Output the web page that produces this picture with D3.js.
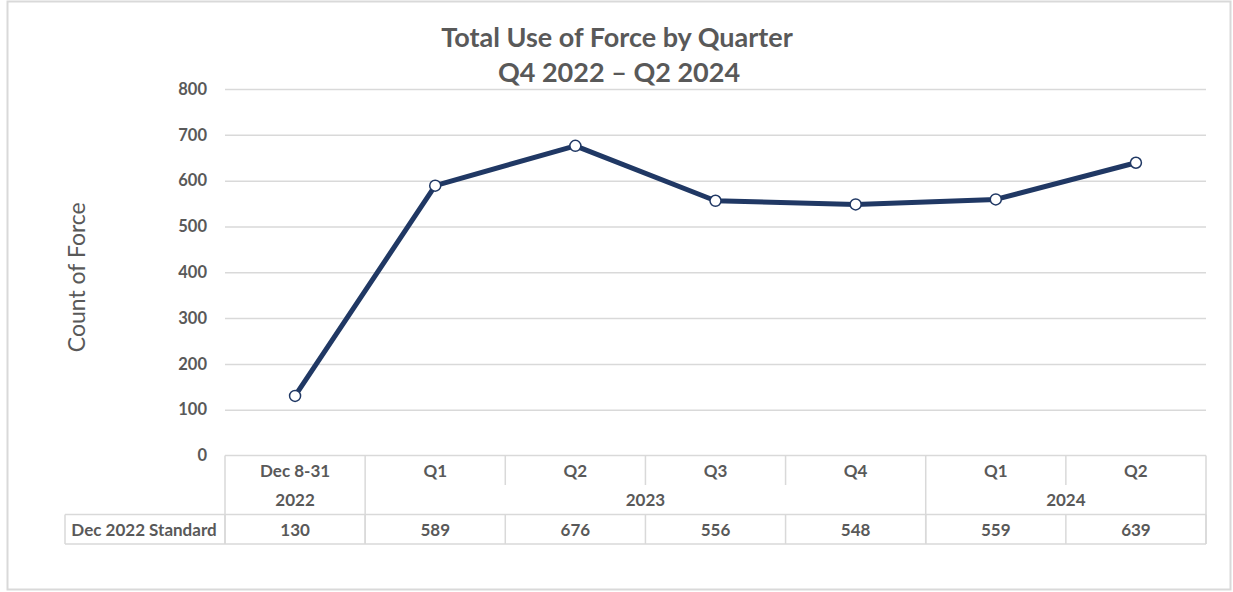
<!DOCTYPE html>
<html>
<head>
<meta charset="utf-8">
<script src="https://cdn.jsdelivr.net/npm/d3@7"></script>
<style>
  body { margin: 0; background: #fff; }
  text { font-family: Lato, "Open Sans", sans-serif; fill: #595959; }
</style>
</head>
<body>
<div id="chart"></div>
<script>
var periods = ["Dec 8-31", "Q1", "Q2", "Q3", "Q4", "Q1", "Q2"];
var years = [
  { label: "2022", from: 0, to: 1 },
  { label: "2023", from: 1, to: 5 },
  { label: "2024", from: 5, to: 7 }
];
var seriesName = "Dec 2022 Standard";
var counts = [130, 589, 676, 556, 548, 559, 639];
var yTicks = [0, 100, 200, 300, 400, 500, 600, 700, 800];

var width = 1233, height = 592;
var plotLeft = 225, plotRight = 1206, plotTop = 89, plotBottom = 455.5;
var rowH = 29.5;
var gridColor = "#d9d9d9";
var lineColor = "#203864";

var svg = d3.select("#chart").append("svg")
    .attr("width", width)
    .attr("height", height);

// chart frame
svg.append("rect")
    .attr("x", 7.5).attr("y", 1.5)
    .attr("width", 1223).attr("height", 588)
    .attr("fill", "#fff")
    .attr("stroke", gridColor)
    .attr("stroke-width", 2);

var x = d3.scaleBand()
    .domain(d3.range(periods.length))
    .range([plotLeft, plotRight])
    .padding(0);

var y = d3.scaleLinear()
    .domain([0, 800])
    .range([plotBottom, plotTop]);

// gridlines + tick labels
var yAxis = d3.axisLeft(y)
    .tickValues(yTicks)
    .tickSize(-(plotRight - plotLeft))
    .tickPadding(18);

var gy = svg.append("g")
    .attr("transform", "translate(" + plotLeft + ",0)")
    .call(yAxis);
gy.select(".domain").remove();
gy.selectAll(".tick line")
    .attr("stroke", gridColor)
    .attr("stroke-width", 1.5)
    .attr("opacity", function(d) { return d === 0 ? 0 : 1; });
gy.selectAll(".tick text")
    .style("font-size", "16.5px")
    .style("font-weight", "bold")
    .attr("fill", "#595959");

// title
svg.append("text")
    .attr("x", 617).attr("y", 47)
    .attr("text-anchor", "middle")
    .style("font-size", "27px")
    .style("font-weight", "bold")
    .text("Total Use of Force by Quarter");
svg.append("text")
    .attr("x", 619).attr("y", 82)
    .attr("text-anchor", "middle")
    .style("font-size", "27px")
    .style("font-weight", "bold")
    .text("Q4 2022 \u2013 Q2 2024");

// y axis title
svg.append("text")
    .attr("transform", "translate(85," + ((plotTop + plotBottom) / 2 + 5) + ") rotate(-90)")
    .attr("text-anchor", "middle")
    .style("font-size", "23px")
    .text("Count of Force");

// data table under the axis
var table = svg.append("g").attr("stroke", gridColor).attr("stroke-width", 1.5);
var t0 = plotBottom, t1 = plotBottom + rowH, t2 = plotBottom + 2 * rowH, t3 = plotBottom + 3 * rowH;

table.append("line").attr("x1", plotLeft).attr("x2", plotRight).attr("y1", t0).attr("y2", t0);
table.append("line").attr("x1", 65).attr("x2", plotRight).attr("y1", t2).attr("y2", t2);
table.append("line").attr("x1", 65).attr("x2", plotRight).attr("y1", t3).attr("y2", t3);
table.append("line").attr("x1", 65).attr("x2", 65).attr("y1", t2).attr("y2", t3);

var edgeX = function(i) { return i < periods.length ? x(i) : x(i - 1) + x.bandwidth(); };

// column dividers: full height at year boundaries, header row only inside a year
var bounds = d3.range(periods.length + 1);
table.selectAll(".col")
    .data(bounds)
    .enter().append("line")
    .attr("x1", edgeX)
    .attr("x2", edgeX)
    .attr("y1", t0)
    .attr("y2", function(i) {
      var yearEdge = years.some(function(yr) { return yr.from === i || yr.to === i; });
      return yearEdge ? t3 : t1;
    });
// divider in the values row for every column
table.selectAll(".colv")
    .data(bounds)
    .enter().append("line")
    .attr("x1", edgeX)
    .attr("x2", edgeX)
    .attr("y1", t2)
    .attr("y2", t3);

var cellText = function(sel) {
  sel.attr("text-anchor", "middle")
    .attr("dominant-baseline", "central")
    .style("font-size", "17px")
    .style("font-weight", "bold");
};

svg.selectAll(".period")
    .data(periods)
    .enter().append("text")
    .attr("x", function(d, i) { return x(i) + x.bandwidth() / 2; })
    .attr("y", t0 + rowH / 2)
    .text(function(d) { return d; })
    .call(cellText);

svg.selectAll(".year")
    .data(years)
    .enter().append("text")
    .attr("x", function(d) { return (x(d.from) + x(d.to - 1) + x.bandwidth()) / 2; })
    .attr("y", t1 + rowH / 2)
    .text(function(d) { return d.label; })
    .call(cellText);

svg.selectAll(".val")
    .data(counts)
    .enter().append("text")
    .attr("x", function(d, i) { return x(i) + x.bandwidth() / 2; })
    .attr("y", t2 + rowH / 2)
    .text(function(d) { return d; })
    .call(cellText);

svg.append("text")
    .attr("x", 144)
    .attr("y", t2 + rowH / 2)
    .text(seriesName)
    .call(cellText);

// the line
var line = d3.line()
    .x(function(d, i) { return x(i) + x.bandwidth() / 2; })
    .y(function(d) { return y(d); });

svg.append("path")
    .datum(counts)
    .attr("fill", "none")
    .attr("stroke", lineColor)
    .attr("stroke-width", 5)
    .attr("stroke-linejoin", "round")
    .attr("d", line);

svg.selectAll(".pt")
    .data(counts)
    .enter().append("circle")
    .attr("cx", function(d, i) { return x(i) + x.bandwidth() / 2; })
    .attr("cy", function(d) { return y(d); })
    .attr("r", 5.5)
    .attr("fill", "#fff")
    .attr("stroke", lineColor)
    .attr("stroke-width", 1.5);
</script>
</body>
</html>
